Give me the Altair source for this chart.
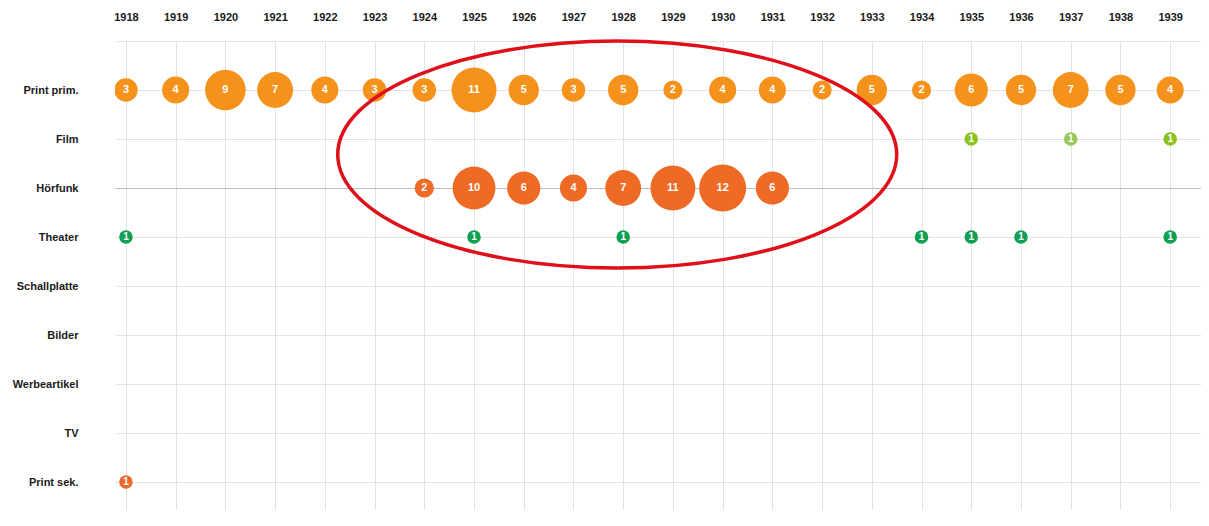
import altair as alt
import pandas as pd

# ---- data ----
years_axis = list(range(1918, 1940))
categories = ["Print prim.", "Film", "Hörfunk", "Theater", "Schallplatte",
              "Bilder", "Werbeartikel", "TV", "Print sek."]

print_prim_years = list(range(1918, 1941))
print_prim_vals = [3, 4, 9, 7, 4, 3, 3, 11, 5, 3, 5, 2, 4, 4, 2, 5, 2, 6, 5, 7, 5, 4, 3]

film_years = [1935, 1937, 1939]
film_vals = [1, 1, 1]
film_tone = ["Film", "Film hell", "Film"]

hoerfunk_years = [1924, 1925, 1926, 1927, 1928, 1929, 1930, 1931]
hoerfunk_vals = [2, 10, 6, 4, 7, 11, 12, 6]

theater_years = [1918, 1925, 1928, 1934, 1935, 1936, 1939]
theater_vals = [1, 1, 1, 1, 1, 1, 1]

print_sek_years = [1918]
print_sek_vals = [1]

# annotation ellipse (centre in data units)
ellipse_year = [1927.88]
ellipse_row = [2.317]

color_domain = ["Print prim.", "Film", "Film hell", "Hörfunk", "Theater", "Print sek."]
color_range = ["#f5921b", "#8cc21f", "#98c95e", "#ee6a25", "#119f52", "#ea6a2b"]

rows = []
def add(series, yrs, vals, tones=None):
    r = categories.index(series) + 1
    for i, (yy, v) in enumerate(zip(yrs, vals)):
        rows.append({"year": yy, "series": series, "row": r, "value": v,
                     "tone": tones[i] if tones else series})

add("Print prim.", print_prim_years, print_prim_vals)
add("Film", film_years, film_vals, film_tone)
add("Hörfunk", hoerfunk_years, hoerfunk_vals)
add("Theater", theater_years, theater_vals)
add("Print sek.", print_sek_years, print_sek_vals)
df = pd.DataFrame(rows)

ell_df = pd.DataFrame({"year": ellipse_year, "row": ellipse_row})

FONT = "Liberation Sans"
label_expr = "[''," + ",".join("'%s'" % c for c in categories) + "][datum.value] || ''"

x_enc = alt.X(
    "year:Q",
    scale=alt.Scale(domain=[1917.78, 1939.62], nice=False, zero=False),
    axis=alt.Axis(orient="top", values=years_axis, format="d", title=None,
                  ticks=False, domain=False, labelPadding=19,
                  labelFont=FONT, labelFontWeight="bold", labelFontSize=11,
                  labelColor="#1a1a1a", labelFlush=False, labelOverlap=False,
                  grid=True, gridColor="#e2e2e2", gridWidth=1),
)
y_enc = alt.Y(
    "row:Q",
    scale=alt.Scale(domain=[0, 9.57], nice=False, zero=False, reverse=True),
    axis=alt.Axis(values=list(range(0, 10)), labelExpr=label_expr, title=None,
                  ticks=False, domain=False, labelPadding=37,
                  labelFont=FONT, labelFontWeight="bold", labelFontSize=11,
                  labelColor="#1a1a1a", labelFlush=False, labelOverlap=False,
                  grid=True,
                  gridColor={"condition": {"test": "datum.value === 3", "value": "#bdbdbd"},
                             "value": "#e2e2e2"},
                  gridWidth=1),
)

base = alt.Chart(df)

bubbles = base.mark_circle(opacity=1, clip=True).encode(
    x=x_enc,
    y=y_enc,
    size=alt.Size("value:Q", scale=alt.Scale(domain=[0, 12], range=[0, 2206]), legend=None),
    color=alt.Color("tone:N", scale=alt.Scale(domain=color_domain, range=color_range), legend=None),
)

labels = base.transform_filter("datum.year <= 1939").mark_text(
    color="white", font=FONT, fontWeight="bold",
    baseline="middle", align="center", clip=True).encode(
    x=x_enc,
    y=y_enc,
    text=alt.Text("value:Q"),
    size=alt.condition("datum.value <= 1", alt.value(10), alt.value(11)),
)

ellipse_path = "M -1 0 A 1 0.406 0 1 1 1 0 A 1 0.406 0 1 1 -1 0 Z"
ellipse = alt.Chart(ell_df).mark_point(
    shape=ellipse_path, filled=False, stroke="#e0101a", strokeWidth=3.5,
    strokeOpacity=1, opacity=1,
).encode(
    x=x_enc,
    y=y_enc,
    size=alt.value(559 * 559),
)

chart = alt.layer(bubbles, labels, ellipse).properties(
    width=1086, height=469,
    autosize="none",
    padding={"left": 107, "top": 33, "right": 0, "bottom": 0},
    background="white",
).configure_view(stroke=None)

chart.save("out.html", embed_options={"renderer": "svg", "actions": False})
